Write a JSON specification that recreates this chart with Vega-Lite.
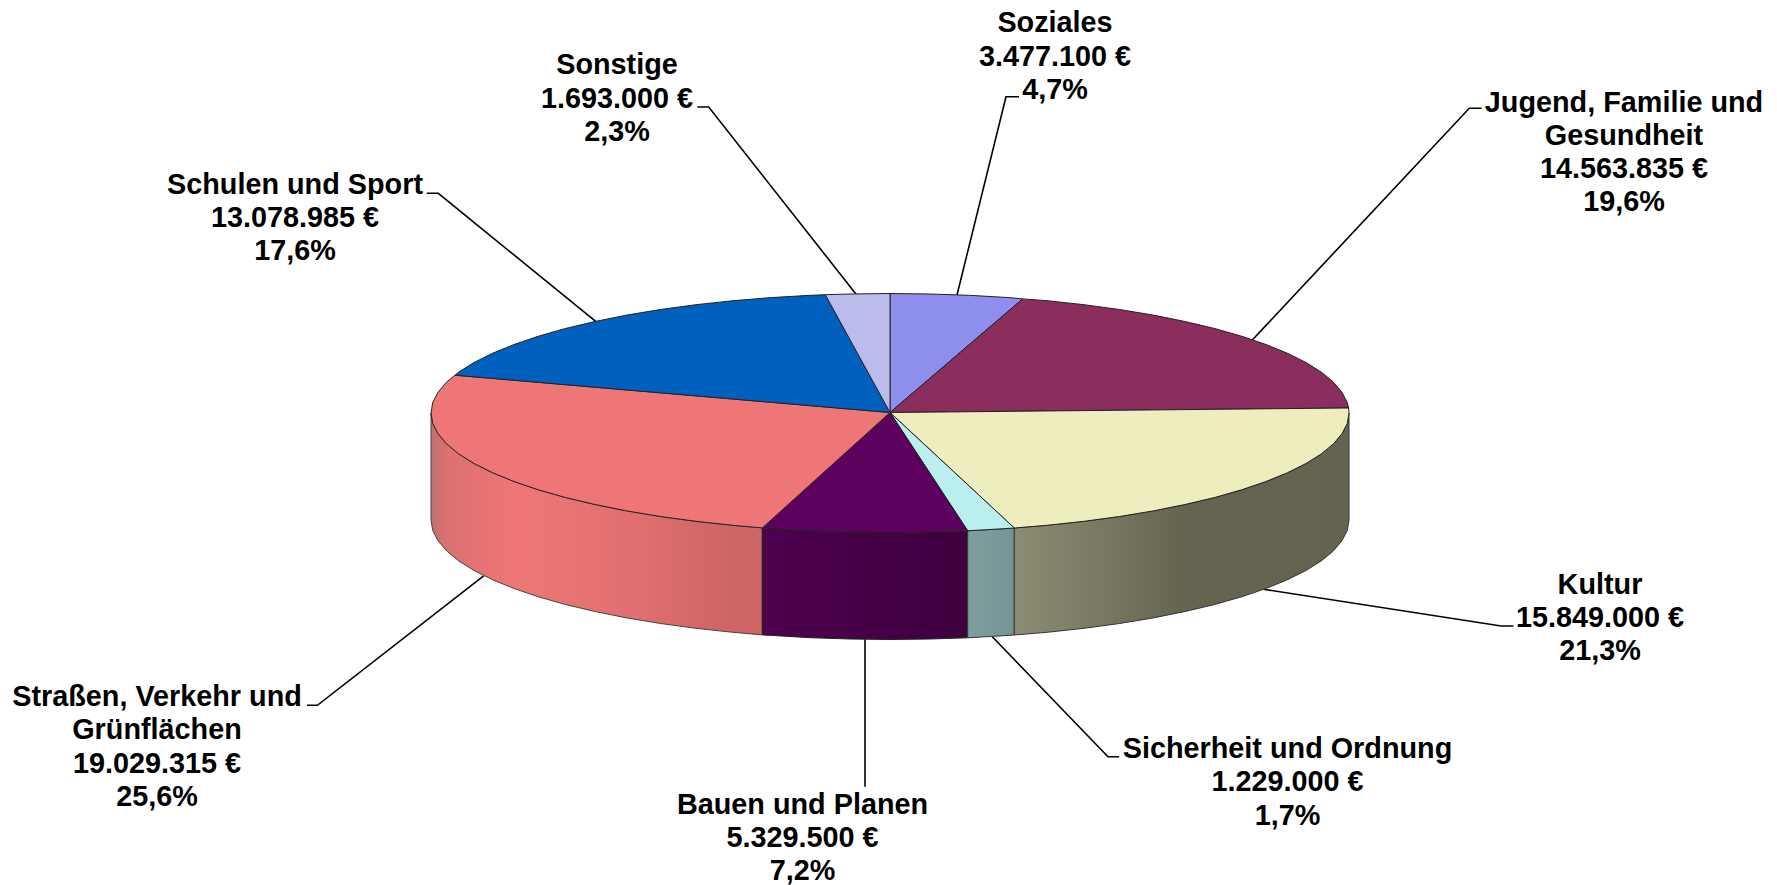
{"$schema":"https://vega.github.io/schema/vega-lite/v6.json","width":1777,"height":885,"padding":0,"autosize":{"type":"none"},"background":"white","config":{"view":{"stroke":null}},
"datasets":{
"tops":[
{"w":"Soziales","i":0,"x":890,"y":412.5},{"w":"Soziales","i":1,"x":890,"y":293.5},{"w":"Soziales","i":2,"x":930,"y":294},{"w":"Soziales","i":3,"x":969.7,"y":295.3},{"w":"Soziales","i":4,"x":1008.8,"y":297.6},{"w":"Soziales","i":5,"x":1022.7,"y":298.9},{"w":"Soziales","i":6,"x":890,"y":412.5},
{"w":"Jugend","i":0,"x":890,"y":412.5},{"w":"Jugend","i":1,"x":1022.7,"y":298.9},{"w":"Jugend","i":2,"x":1047,"y":300.7},{"w":"Jugend","i":3,"x":1084,"y":304.7},{"w":"Jugend","i":4,"x":1119.5,"y":309.5},{"w":"Jugend","i":5,"x":1153.3,"y":315.1},{"w":"Jugend","i":6,"x":1185,"y":321.5},{"w":"Jugend","i":7,"x":1214.6,"y":328.5},{"w":"Jugend","i":8,"x":1241.6,"y":336.2},{"w":"Jugend","i":9,"x":1266,"y":344.5},{"w":"Jugend","i":10,"x":1287.5,"y":353.3},{"w":"Jugend","i":11,"x":1306,"y":362.5},{"w":"Jugend","i":12,"x":1321.3,"y":372.1},{"w":"Jugend","i":13,"x":1333.4,"y":382.1},{"w":"Jugend","i":14,"x":1342,"y":392.3},{"w":"Jugend","i":15,"x":1347.3,"y":402.6},{"w":"Jugend","i":16,"x":1348.6,"y":408},{"w":"Jugend","i":17,"x":890,"y":412.5},
{"w":"Kultur","i":0,"x":890,"y":412.5},{"w":"Kultur","i":1,"x":1348.6,"y":408},{"w":"Kultur","i":2,"x":1349,"y":413},{"w":"Kultur","i":3,"x":1347.3,"y":423.4},{"w":"Kultur","i":4,"x":1342,"y":433.7},{"w":"Kultur","i":5,"x":1333.4,"y":443.9},{"w":"Kultur","i":6,"x":1321.3,"y":453.9},{"w":"Kultur","i":7,"x":1306,"y":463.5},{"w":"Kultur","i":8,"x":1287.5,"y":472.7},{"w":"Kultur","i":9,"x":1266,"y":481.5},{"w":"Kultur","i":10,"x":1241.6,"y":489.8},{"w":"Kultur","i":11,"x":1214.6,"y":497.5},{"w":"Kultur","i":12,"x":1185,"y":504.5},{"w":"Kultur","i":13,"x":1153.3,"y":510.9},{"w":"Kultur","i":14,"x":1119.5,"y":516.5},{"w":"Kultur","i":15,"x":1084,"y":521.3},{"w":"Kultur","i":16,"x":1047,"y":525.3},{"w":"Kultur","i":17,"x":1014.3,"y":528},{"w":"Kultur","i":18,"x":890,"y":412.5},
{"w":"Sicherheit","i":0,"x":890,"y":412.5},{"w":"Sicherheit","i":1,"x":1014.3,"y":528},{"w":"Sicherheit","i":2,"x":1008.8,"y":528.4},{"w":"Sicherheit","i":3,"x":967.7,"y":530.8},{"w":"Sicherheit","i":4,"x":890,"y":412.5},
{"w":"Bauen","i":0,"x":890,"y":412.5},{"w":"Bauen","i":1,"x":967.7,"y":530.8},{"w":"Bauen","i":2,"x":930,"y":532},{"w":"Bauen","i":3,"x":890,"y":532.5},{"w":"Bauen","i":4,"x":850,"y":532},{"w":"Bauen","i":5,"x":810.3,"y":530.7},{"w":"Bauen","i":6,"x":771.2,"y":528.4},{"w":"Bauen","i":7,"x":762.3,"y":527.9},{"w":"Bauen","i":8,"x":890,"y":412.5},
{"w":"Strassen","i":0,"x":890,"y":412.5},{"w":"Strassen","i":1,"x":762.3,"y":527.9},{"w":"Strassen","i":2,"x":733,"y":525.3},{"w":"Strassen","i":3,"x":696,"y":521.3},{"w":"Strassen","i":4,"x":660.5,"y":516.5},{"w":"Strassen","i":5,"x":626.7,"y":510.9},{"w":"Strassen","i":6,"x":595,"y":504.5},{"w":"Strassen","i":7,"x":565.4,"y":497.5},{"w":"Strassen","i":8,"x":538.4,"y":489.8},{"w":"Strassen","i":9,"x":514,"y":481.5},{"w":"Strassen","i":10,"x":492.5,"y":472.7},{"w":"Strassen","i":11,"x":474,"y":463.5},{"w":"Strassen","i":12,"x":458.7,"y":453.9},{"w":"Strassen","i":13,"x":446.6,"y":443.9},{"w":"Strassen","i":14,"x":438,"y":433.7},{"w":"Strassen","i":15,"x":432.7,"y":423.4},{"w":"Strassen","i":16,"x":431,"y":413},{"w":"Strassen","i":17,"x":432.7,"y":402.6},{"w":"Strassen","i":18,"x":438,"y":392.3},{"w":"Strassen","i":19,"x":446.6,"y":382.1},{"w":"Strassen","i":20,"x":455,"y":375.2},{"w":"Strassen","i":21,"x":890,"y":412.5},
{"w":"Schulen","i":0,"x":890,"y":412.5},{"w":"Schulen","i":1,"x":455,"y":375.2},{"w":"Schulen","i":2,"x":458.7,"y":372.1},{"w":"Schulen","i":3,"x":474,"y":362.5},{"w":"Schulen","i":4,"x":492.5,"y":353.3},{"w":"Schulen","i":5,"x":514,"y":344.5},{"w":"Schulen","i":6,"x":538.4,"y":336.2},{"w":"Schulen","i":7,"x":565.4,"y":328.5},{"w":"Schulen","i":8,"x":595,"y":321.5},{"w":"Schulen","i":9,"x":626.7,"y":315.1},{"w":"Schulen","i":10,"x":660.5,"y":309.5},{"w":"Schulen","i":11,"x":696,"y":304.7},{"w":"Schulen","i":12,"x":733,"y":300.7},{"w":"Schulen","i":13,"x":771.2,"y":297.6},{"w":"Schulen","i":14,"x":810.3,"y":295.3},{"w":"Schulen","i":15,"x":825.3,"y":294.7},{"w":"Schulen","i":16,"x":890,"y":412.5},
{"w":"Sonstige","i":0,"x":890,"y":412.5},{"w":"Sonstige","i":1,"x":825.3,"y":294.7},{"w":"Sonstige","i":2,"x":850,"y":294},{"w":"Sonstige","i":3,"x":890,"y":293.5},{"w":"Sonstige","i":4,"x":890,"y":412.5}
],
"sides":[
{"w":"Strassen","i":0,"x":431,"y":413},{"w":"Strassen","i":1,"x":432.7,"y":423.4},{"w":"Strassen","i":2,"x":438,"y":433.7},{"w":"Strassen","i":3,"x":446.6,"y":443.9},{"w":"Strassen","i":4,"x":458.7,"y":453.9},{"w":"Strassen","i":5,"x":474,"y":463.5},{"w":"Strassen","i":6,"x":492.5,"y":472.7},{"w":"Strassen","i":7,"x":514,"y":481.5},{"w":"Strassen","i":8,"x":538.4,"y":489.8},{"w":"Strassen","i":9,"x":565.4,"y":497.5},{"w":"Strassen","i":10,"x":595,"y":504.5},{"w":"Strassen","i":11,"x":626.7,"y":510.9},{"w":"Strassen","i":12,"x":660.5,"y":516.5},{"w":"Strassen","i":13,"x":696,"y":521.3},{"w":"Strassen","i":14,"x":733,"y":525.3},{"w":"Strassen","i":15,"x":762.3,"y":527.9},
{"w":"Strassen","i":16,"x":762.3,"y":634.9},{"w":"Strassen","i":17,"x":733,"y":632.3},{"w":"Strassen","i":18,"x":696,"y":628.3},{"w":"Strassen","i":19,"x":660.5,"y":623.5},{"w":"Strassen","i":20,"x":626.7,"y":617.9},{"w":"Strassen","i":21,"x":595,"y":611.5},{"w":"Strassen","i":22,"x":565.4,"y":604.5},{"w":"Strassen","i":23,"x":538.4,"y":596.8},{"w":"Strassen","i":24,"x":514,"y":588.5},{"w":"Strassen","i":25,"x":492.5,"y":579.7},{"w":"Strassen","i":26,"x":474,"y":570.5},{"w":"Strassen","i":27,"x":458.7,"y":560.9},{"w":"Strassen","i":28,"x":446.6,"y":550.9},{"w":"Strassen","i":29,"x":438,"y":540.7},{"w":"Strassen","i":30,"x":432.7,"y":530.4},{"w":"Strassen","i":31,"x":431,"y":520},{"w":"Strassen","i":32,"x":431,"y":413},
{"w":"Bauen","i":0,"x":762.3,"y":527.9},{"w":"Bauen","i":1,"x":771.2,"y":528.4},{"w":"Bauen","i":2,"x":810.3,"y":530.7},{"w":"Bauen","i":3,"x":850,"y":532},{"w":"Bauen","i":4,"x":890,"y":532.5},{"w":"Bauen","i":5,"x":930,"y":532},{"w":"Bauen","i":6,"x":967.7,"y":530.8},{"w":"Bauen","i":7,"x":967.7,"y":637.8},{"w":"Bauen","i":8,"x":930,"y":639},{"w":"Bauen","i":9,"x":890,"y":639.5},{"w":"Bauen","i":10,"x":850,"y":639},{"w":"Bauen","i":11,"x":810.3,"y":637.7},{"w":"Bauen","i":12,"x":771.2,"y":635.4},{"w":"Bauen","i":13,"x":762.3,"y":634.9},{"w":"Bauen","i":14,"x":762.3,"y":527.9},
{"w":"Sicherheit","i":0,"x":967.7,"y":530.8},{"w":"Sicherheit","i":1,"x":1008.8,"y":528.4},{"w":"Sicherheit","i":2,"x":1014.3,"y":528},{"w":"Sicherheit","i":3,"x":1014.3,"y":635},{"w":"Sicherheit","i":4,"x":1008.8,"y":635.4},{"w":"Sicherheit","i":5,"x":967.7,"y":637.8},{"w":"Sicherheit","i":6,"x":967.7,"y":530.8},
{"w":"Kultur","i":0,"x":1014.3,"y":528},{"w":"Kultur","i":1,"x":1047,"y":525.3},{"w":"Kultur","i":2,"x":1084,"y":521.3},{"w":"Kultur","i":3,"x":1119.5,"y":516.5},{"w":"Kultur","i":4,"x":1153.3,"y":510.9},{"w":"Kultur","i":5,"x":1185,"y":504.5},{"w":"Kultur","i":6,"x":1214.6,"y":497.5},{"w":"Kultur","i":7,"x":1241.6,"y":489.8},{"w":"Kultur","i":8,"x":1266,"y":481.5},{"w":"Kultur","i":9,"x":1287.5,"y":472.7},{"w":"Kultur","i":10,"x":1306,"y":463.5},{"w":"Kultur","i":11,"x":1321.3,"y":453.9},{"w":"Kultur","i":12,"x":1333.4,"y":443.9},{"w":"Kultur","i":13,"x":1342,"y":433.7},{"w":"Kultur","i":14,"x":1347.3,"y":423.4},{"w":"Kultur","i":15,"x":1349,"y":413},
{"w":"Kultur","i":16,"x":1349,"y":520},{"w":"Kultur","i":17,"x":1347.3,"y":530.4},{"w":"Kultur","i":18,"x":1342,"y":540.7},{"w":"Kultur","i":19,"x":1333.4,"y":550.9},{"w":"Kultur","i":20,"x":1321.3,"y":560.9},{"w":"Kultur","i":21,"x":1306,"y":570.5},{"w":"Kultur","i":22,"x":1287.5,"y":579.7},{"w":"Kultur","i":23,"x":1266,"y":588.5},{"w":"Kultur","i":24,"x":1241.6,"y":596.8},{"w":"Kultur","i":25,"x":1214.6,"y":604.5},{"w":"Kultur","i":26,"x":1185,"y":611.5},{"w":"Kultur","i":27,"x":1153.3,"y":617.9},{"w":"Kultur","i":28,"x":1119.5,"y":623.5},{"w":"Kultur","i":29,"x":1084,"y":628.3},{"w":"Kultur","i":30,"x":1047,"y":632.3},{"w":"Kultur","i":31,"x":1014.3,"y":635},{"w":"Kultur","i":32,"x":1014.3,"y":528}
],
"leaders":[
{"w":"Sonstige","i":0,"x":697.3,"y":107},{"w":"Sonstige","i":1,"x":708.7,"y":107},{"w":"Sonstige","i":2,"x":856.7,"y":295},
{"w":"Schulen","i":0,"x":426.7,"y":193.3},{"w":"Schulen","i":1,"x":438.3,"y":193.3},{"w":"Schulen","i":2,"x":596,"y":321.7},
{"w":"Soziales","i":0,"x":1019,"y":96.7},{"w":"Soziales","i":1,"x":1006,"y":96.7},{"w":"Soziales","i":2,"x":957,"y":295},
{"w":"Jugend","i":0,"x":1481.6,"y":108.3},{"w":"Jugend","i":1,"x":1469.3,"y":108.3},{"w":"Jugend","i":2,"x":1252.3,"y":340},
{"w":"Kultur","i":0,"x":1263.5,"y":589.3},{"w":"Kultur","i":1,"x":1501.2,"y":626},{"w":"Kultur","i":2,"x":1513.5,"y":626},
{"w":"Sicherheit","i":0,"x":992.3,"y":636.7},{"w":"Sicherheit","i":1,"x":1108,"y":756.7},{"w":"Sicherheit","i":2,"x":1119.2,"y":756.7},
{"w":"Bauen","i":0,"x":865,"y":639.3},{"w":"Bauen","i":1,"x":865,"y":786.7},
{"w":"Strassen","i":0,"x":484,"y":575.7},{"w":"Strassen","i":1,"x":317.4,"y":705.3},{"w":"Strassen","i":2,"x":307,"y":705.3}
],
"labels":[
{"w":"Soziales","betrag":3477100,"label":"Soziales\n3.477.100 €\n4,7%","x":1055,"y":23.3},
{"w":"Jugend","betrag":14563835,"label":"Jugend, Familie und\nGesundheit\n14.563.835 €\n19,6%","x":1624,"y":102.5},
{"w":"Kultur","betrag":15849000,"label":"Kultur\n15.849.000 €\n21,3%","x":1600,"y":584.8},
{"w":"Sicherheit","betrag":1229000,"label":"Sicherheit und Ordnung\n1.229.000 €\n1,7%","x":1287.5,"y":749},
{"w":"Bauen","betrag":5329500,"label":"Bauen und Planen\n5.329.500 €\n7,2%","x":802.5,"y":804.5},
{"w":"Strassen","betrag":19029315,"label":"Straßen, Verkehr und\nGrünflächen\n19.029.315 €\n25,6%","x":157,"y":697},
{"w":"Schulen","betrag":13078985,"label":"Schulen und Sport\n13.078.985 €\n17,6%","x":295,"y":184.6},
{"w":"Sonstige","betrag":1693000,"label":"Sonstige\n1.693.000 €\n2,3%","x":617,"y":65.3}
]},
"encoding":{
"x":{"field":"x","type":"quantitative","axis":null,"scale":{"domain":[0,1777],"nice":false,"zero":false}},
"y":{"field":"y","type":"quantitative","axis":null,"scale":{"domain":[885,0],"nice":false,"zero":false}}
},
"layer":[
{"data":{"name":"leaders"},"mark":{"type":"line","stroke":"black","strokeWidth":1.6},"encoding":{"detail":{"field":"w"},"order":{"field":"i"}}},
{"data":{"name":"sides"},"transform":[{"filter":"datum.w==='Strassen'"}],"mark":{"type":"line","stroke":"#444","strokeWidth":1,"fill":{"gradient":"linear","x1":0,"y1":0,"x2":1,"y2":0,"stops":[{"offset":0,"color":"#BE7272"},{"offset":0.05,"color":"#DD7070"},{"offset":0.25,"color":"#EE7676"},{"offset":0.45,"color":"#E87373"},{"offset":0.65,"color":"#DF6E6E"},{"offset":0.85,"color":"#D06666"},{"offset":1,"color":"#CE6666"}]}},"encoding":{"order":{"field":"i"}}},
{"data":{"name":"sides"},"transform":[{"filter":"datum.w==='Bauen'"}],"mark":{"type":"line","stroke":"#222","strokeWidth":1,"fill":{"gradient":"linear","x1":0,"y1":0,"x2":1,"y2":0,"stops":[{"offset":0,"color":"#4E004E"},{"offset":1,"color":"#3E003E"}]}},"encoding":{"order":{"field":"i"}}},
{"data":{"name":"sides"},"transform":[{"filter":"datum.w==='Sicherheit'"}],"mark":{"type":"line","stroke":"#333","strokeWidth":1,"fill":{"gradient":"linear","x1":0,"y1":0,"x2":1,"y2":0,"stops":[{"offset":0,"color":"#7F9F9F"},{"offset":1,"color":"#759393"}]}},"encoding":{"order":{"field":"i"}}},
{"data":{"name":"sides"},"transform":[{"filter":"datum.w==='Kultur'"}],"mark":{"type":"line","stroke":"#333","strokeWidth":1,"fill":{"gradient":"linear","x1":0,"y1":0,"x2":1,"y2":0,"stops":[{"offset":0,"color":"#8C8C73"},{"offset":0.25,"color":"#7A7A62"},{"offset":0.5,"color":"#656450"},{"offset":1,"color":"#646350"}]}},"encoding":{"order":{"field":"i"}}},
{"data":{"name":"tops"},"mark":{"type":"line","stroke":"#222","strokeWidth":1},"encoding":{"order":{"field":"i"},"fill":{"field":"w","type":"nominal","legend":null,"scale":{"domain":["Soziales","Jugend","Kultur","Sicherheit","Bauen","Strassen","Schulen","Sonstige"],"range":["#8E8EEE","#8B2D5D","#EEEDBD","#BBEEEE","#5E005E","#EE7676","#0060BE","#BCBCEC"]}}}},
{"data":{"name":"labels"},"mark":{"type":"text","font":"Liberation Sans","fontWeight":"bold","fontSize":28.8,"lineBreak":"\n","lineHeight":33.3,"align":"center","baseline":"middle","color":"black"},"encoding":{"text":{"field":"label"}}}
]}
